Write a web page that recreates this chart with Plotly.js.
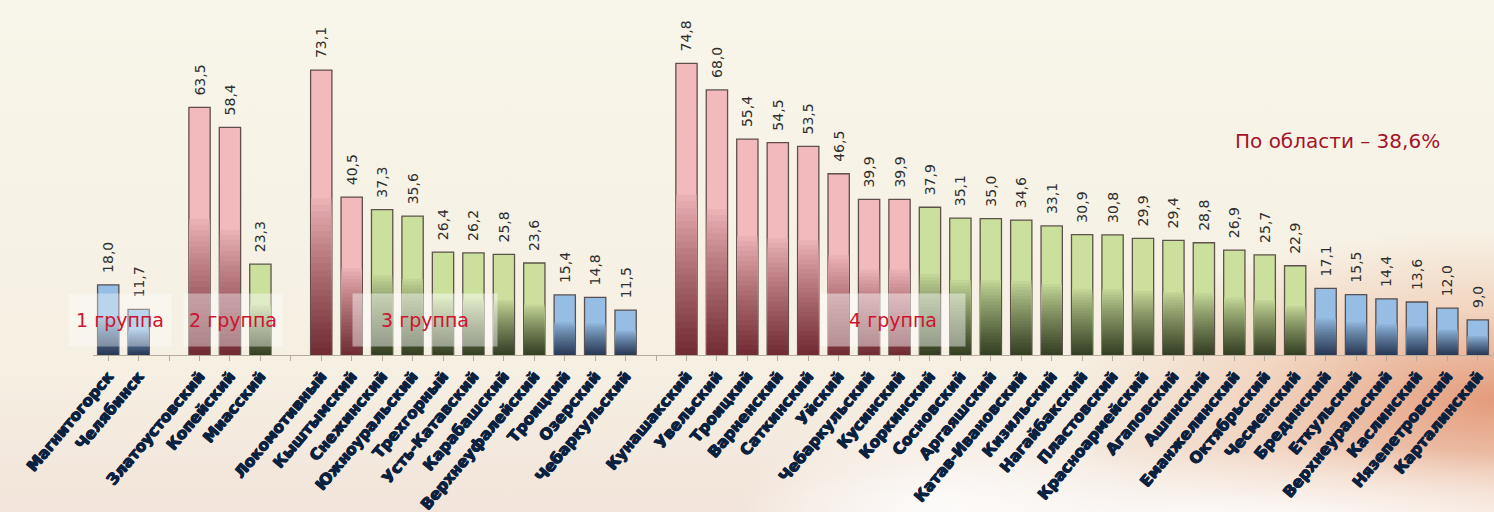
<!DOCTYPE html>
<html><head><meta charset="utf-8">
<script src="https://cdn.plot.ly/plotly-3.0.1.min.js"></script>
<style>
html,body{margin:0;padding:0;}
#chart{width:1494px;height:512px;
background:
 radial-gradient(ellipse 560px 80px at 1260px 525px, rgba(255,255,255,0.95), rgba(255,255,255,0) 100%),
 radial-gradient(ellipse 200px 120px at 940px 520px, rgba(255,255,255,0.8), rgba(255,255,255,0) 100%),
 radial-gradient(ellipse 430px 170px at 1494px 400px, rgba(226,146,112,0.9), rgba(236,182,152,0.45) 55%, rgba(247,242,230,0) 100%),
 linear-gradient(180deg, #f8f5ea 0%, #f6f0e3 70%, #f2e4da 100%);}
</style></head><body><div id="chart"></div>
<script>
const group1Names = ['Магнитогорск','Челябинск'];
const group1Values = [18.0, 11.7];
const group2Names = ['Златоустовский','Копейский','Миасский'];
const group2Values = [63.5, 58.4, 23.3];
const group3Names = ['Локомотивный','Кыштымский','Снежинский','Южноуральский','Трехгорный','Усть-Катавский','Карабашский','Верхнеуфалейский','Троицкий','Озерский','Чебаркульский'];
const group3Values = [73.1, 40.5, 37.3, 35.6, 26.4, 26.2, 25.8, 23.6, 15.4, 14.8, 11.5];
const group4Names = ['Кунашакский','Увельский','Троицкий','Варненский','Саткинский','Уйский','Чебаркульский','Кусинский','Коркинский','Сосновский','Аргаяшский','Катав-Ивановский','Кизильский','Нагайбакский','Пластовский','Красноармейский','Агаповский','Ашинский','Еманжелинский','Октябрьский','Чесменский','Брединский','Еткульский','Верхнеуральский','Каслинский','Нязепетровский','Карталинский'];
const group4Values = [74.8, 68.0, 55.4, 54.5, 53.5, 46.5, 39.9, 39.9, 37.9, 35.1, 35.0, 34.6, 33.1, 30.9, 30.8, 29.9, 29.4, 28.8, 26.9, 25.7, 22.9, 17.1, 15.5, 14.4, 13.6, 12.0, 9.0];
const groupLabels = ['1 группа','2 группа','3 группа','4 группа'];
const regionAverage = 38.6;
const regionLabel = 'По области – 38,6%';
const lowThreshold = 20;

// build slot positions (one empty slot between groups)
const groups = [[group1Names, group1Values],[group2Names, group2Values],[group3Names, group3Values],[group4Names, group4Values]];
const xs = [], ys = [], names = [], tickvals = [], ticktext = [];
let slot = 0;
groups.forEach((g, gi) => {
  if (gi > 0) { tickvals.push(slot); ticktext.push(''); slot++; }
  g[0].forEach((n, i) => {
    xs.push(slot); ys.push(g[1][i]); names.push(n);
    tickvals.push(slot); ticktext.push(n); slot++;
  });
});

const palette = {
  high: {light: [243, 186, 190], dark: [98, 26, 34]},
  mid:  {light: [204, 224, 158], dark: [34, 42, 20]},
  low:  {light: [150, 190, 228], dark: [26, 40, 68]}
};
function cls(v){ return v > regionAverage ? 'high' : (v >= lowThreshold ? 'mid' : 'low'); }
function mix(a, b, t){ return 'rgb(' + a.map((c, i) => Math.round(c + (b[i] - c) * t)).join(',') + ')'; }

const traces = [{
  type: 'bar', x: xs, y: ys, width: 0.7,
  marker: {color: ys.map(v => mix(palette[cls(v)].light, palette[cls(v)].dark, 0)),
           line: {color: 'rgba(70,55,55,0.85)', width: 1.3}},
  texttemplate: '\u00a0\u00a0%{y:.1f}', textposition: 'outside', textangle: -90,
  constraintext: 'none',
  textfont: {family: 'DejaVu Sans', size: 14, color: '#2e2e2e'},
  cliponaxis: false, hoverinfo: 'x+y'
}];
const N = 24;
for (let k = 1; k <= N; k++) {
  const f = 0.55 * (1 - (k - 1) / N);
  const t = Math.pow(k / N, 0.85) * 0.88;
  traces.push({
    type: 'bar', x: xs, y: ys.map(v => v * f), width: 0.66,
    marker: {color: ys.map(v => mix(palette[cls(v)].light, palette[cls(v)].dark, t)), line: {width: 0}},
    hoverinfo: 'skip', textposition: 'none'
  });
}

const boxFont = {family: 'DejaVu Sans', size: 19, color: '#cc1530'};
const layout = {
  width: 1494, height: 512,
  margin: {l: 93, r: 1, t: 10, b: 157},
  paper_bgcolor: 'rgba(0,0,0,0)', plot_bgcolor: 'rgba(0,0,0,0)',
  barmode: 'overlay', showlegend: false, separators: ', ',
  xaxis: {range: [-0.5, slot - 0.5], tickmode: 'array', tickvals: tickvals, ticktext: ticktext,
          tickangle: -50, showline: true, linecolor: '#b5ab9c', linewidth: 1,
          ticks: 'outside', ticklen: 5, tickcolor: '#b5ab9c', showgrid: false, zeroline: false,
          tickfont: {family: 'DejaVu Sans', size: 15.5, weight: 'bold', color: '#0b2140',
                     shadow: '0.7px 0 0 #0b2140, -0.7px 0 0 #0b2140, 0 0.7px 0 #0b2140'}},
  yaxis: {range: [0, 88.5], visible: false, showgrid: false, zeroline: false},
  annotations: [
    {x: 0.4, y: 9, xref: 'x', yref: 'y', text: groupLabels[0], showarrow: false, font: boxFont, bgcolor: 'rgba(255,255,255,0.35)', width: 100, height: 50},
    {x: 4.1, y: 9, xref: 'x', yref: 'y', text: groupLabels[1], showarrow: false, font: boxFont, bgcolor: 'rgba(255,255,255,0.4)', width: 96, height: 50},
    {x: 10.4, y: 9, xref: 'x', yref: 'y', text: groupLabels[2], showarrow: false, font: boxFont, bgcolor: 'rgba(255,255,255,0.45)', width: 142, height: 50},
    {x: 25.8, y: 9, xref: 'x', yref: 'y', text: groupLabels[3], showarrow: false, font: boxFont, bgcolor: 'rgba(255,255,255,0.45)', width: 142, height: 50},
    {x: 40.4, y: 55, xref: 'x', yref: 'y', text: regionLabel, showarrow: false,
     font: {family: 'DejaVu Sans', size: 20, color: '#a5142a'}}
  ]
};
Plotly.newPlot('chart', traces, layout, {displayModeBar: false, staticPlot: true});
</script></body></html>
